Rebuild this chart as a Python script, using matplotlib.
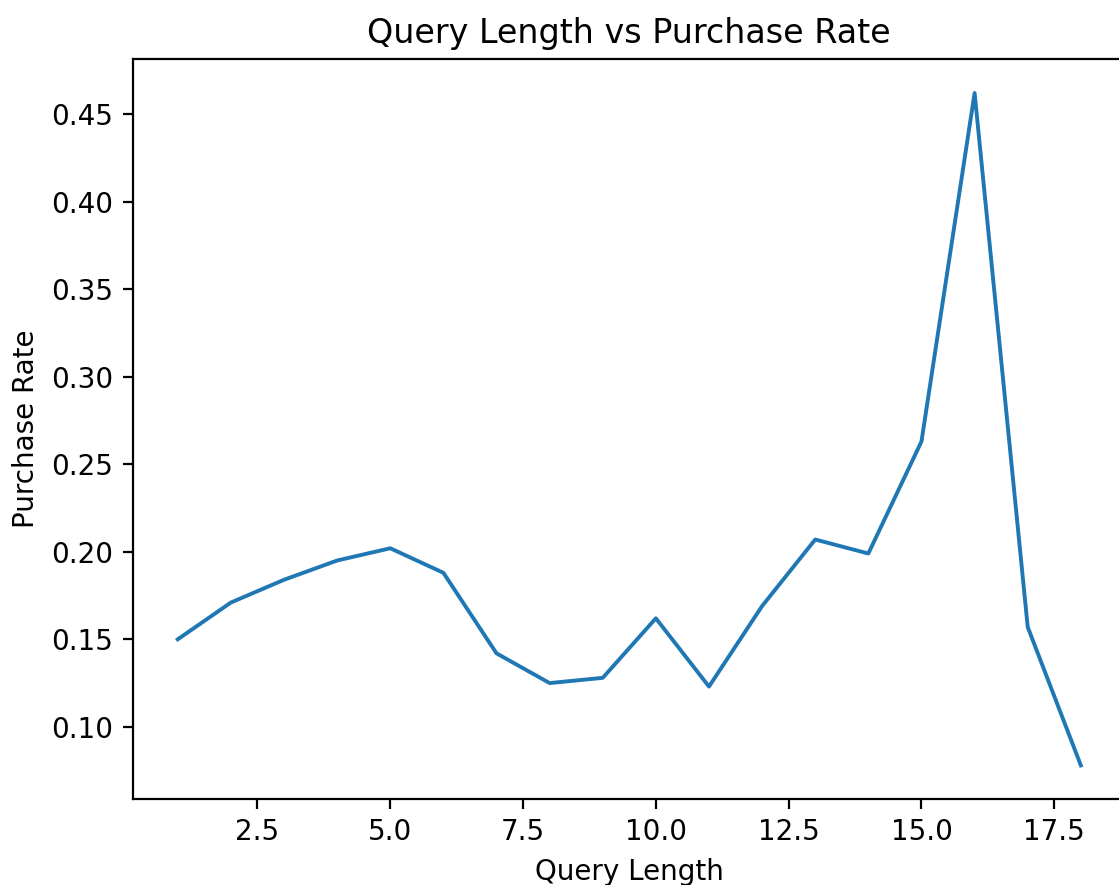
import matplotlib
matplotlib.use("Agg")
import matplotlib.pyplot as plt

# Purchase rate by number of words in the search query
query_length = [1, 2, 3, 4, 5, 6, 7, 8, 9, 10, 11, 12, 13, 14, 15, 16, 17, 18]
purchase_rate = [0.150, 0.171, 0.184, 0.195, 0.202, 0.188, 0.142, 0.125, 0.128,
                 0.162, 0.123, 0.169, 0.207, 0.199, 0.263, 0.462, 0.157, 0.078]

W, H, dpi = 1119, 885, 200
fig = plt.figure(figsize=(W / dpi, H / dpi), dpi=dpi)
# axes box in pixels: left, top, right, bottom
left, top, right, bottom = 132.6, 59.4, 1126.0, 799.0
ax = fig.add_axes([left / W, (H - bottom) / H, (right - left) / W, (bottom - top) / H])

ax.plot(query_length, purchase_rate, linewidth=1.4)
ax.set_title("Query Length vs Purchase Rate")
ax.set_xlabel("Query Length")
ax.set_ylabel("Purchase Rate")

fig.savefig("out.png", dpi=dpi)
